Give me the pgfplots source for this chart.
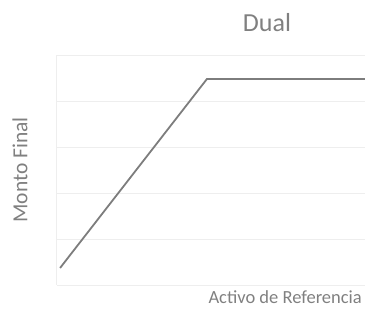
\documentclass[border=0pt]{standalone}
\usepackage{pgfplots}
\pgfplotsset{compat=1.18}
\usepackage{fontspec}
\setmainfont{Carlito}
\definecolor{txtgray}{RGB}{128,128,128}
\definecolor{linegray}{RGB}{125,125,125}
\definecolor{gridgray}{RGB}{238,238,238}
\begin{document}
\begin{tikzpicture}
\useasboundingbox (0,0) rectangle (365pt,310pt);
\begin{axis}[
  at={(57pt,25pt)}, anchor=south west,
  scale only axis, width=308pt, height=230pt,
  xmin=0, xmax=10, ymin=0, ymax=5,
  axis x line=none,
  axis y line*=left,
  y axis line style={gridgray, line width=1pt},
  xtick=\empty, ytick={0,1,2,3,4,5}, yticklabels={},
  major tick length=0pt,
  ymajorgrids, grid style={gridgray, line width=0.8pt},
  clip=false,
]
\addplot[linegray, line width=1.8pt] coordinates {(0.1,0.37) (4.87,4.48) (10,4.48)};
\end{axis}
\node[anchor=base, text=txtgray, font=\fontsize{26}{30}\selectfont] at (267pt,278pt) {Dual};
\node[anchor=base east, text=txtgray, font=\fontsize{18.5}{22}\selectfont, inner sep=0pt] at (362pt,6pt) {Activo de Referencia};
\node[rotate=90, text=txtgray, font=\fontsize{21.5}{24}\selectfont] at (20pt,140pt) {Monto Final};
\end{tikzpicture}
\end{document}
